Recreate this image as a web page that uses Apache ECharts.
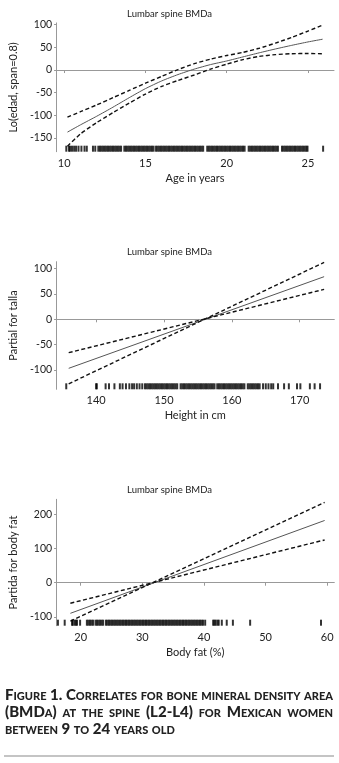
<!DOCTYPE html>
<html>
<head>
<meta charset="utf-8">
<script src="https://cdn.jsdelivr.net/npm/echarts@6/dist/echarts.min.js"></script>
<style>
  html, body { margin: 0; padding: 0; background: #fff; }
  #chart { width: 339px; height: 763px; position: absolute; left: 0; top: 0; }
  .caption {
    position: absolute; left: 5px; top: 686px; width: 328px;
    font-family: Lato, "Open Sans", sans-serif; font-weight: 900;
    font-variant: small-caps; font-size: 15px; line-height: 17px; color: #222;
  }
  .caption span { display: block; text-align: justify; text-align-last: justify; white-space: nowrap; }
  .caption span.last { text-align-last: left; }
  .rule { position: absolute; left: 4px; top: 755px; width: 330px; height: 2px; background: #c4c4c4; }
</style>
</head>
<body>
<div id="chart"></div>
<div class="caption">
  <span>Figure 1. Correlates for bone mineral density area</span>
  <span>(BMDa) at the spine (L2-L4) for Mexican women</span>
  <span class="last">between 9 to 24 years old</span>
</div>
<div class="rule"></div>
<script>
// ---- panel 1: age (loess fit) ----
const ageX     = [10.2, 11, 12, 13, 14, 15, 16, 17, 18, 19, 20, 21, 22, 23, 24, 25, 25.9];
const ageFit   = [-137, -121, -102, -82, -61, -41, -24, -10, 2, 12, 20, 29, 38, 46.5, 54.5, 62, 68];
const ageUpper = [-104, -92, -77, -61, -45, -29, -14, 1, 14, 24, 32, 39, 48, 59.5, 72, 86, 99];
const ageLower = [-168, -141, -116, -94, -73, -53, -36, -23, -11, 2, 13, 23, 30, 34, 36, 36.5, 36];
const ageRug = [10.13, 10.29, 10.36, 10.48, 10.61, 10.73, 10.88, 11.06, 11.25, 11.39, 11.77, 11.91,
  12.1, 12.2, 12.3, 12.4, 12.5, 12.6, 12.7, 12.8, 12.9, 13.0, 13.1, 13.2, 13.3, 13.4, 13.5,
  13.7, 13.8, 13.9, 14.0, 14.1, 14.2, 14.3, 14.4, 14.5, 14.6, 14.7, 14.8, 14.9, 15.0, 15.1, 15.2, 15.3, 15.4, 15.5,
  15.65, 15.75, 15.85, 15.95, 16.05, 16.15, 16.25, 16.35, 16.45, 16.55, 16.65, 16.75, 16.85, 16.95, 17.05, 17.15,
  17.25, 17.35, 17.45, 17.55, 17.65, 17.75, 17.85, 17.95, 18.05, 18.15, 18.25, 18.35, 18.45, 18.55,
  18.8, 18.9, 19.0, 19.1, 19.2, 19.3, 19.4, 19.5, 19.6, 19.7, 19.8, 19.9, 20.0, 20.1, 20.2, 20.3, 20.4,
  20.5, 20.6, 20.7, 20.8, 20.9, 21.0, 21.1,
  21.35, 21.45, 21.55, 21.65, 21.75, 21.85, 21.95, 22.05, 22.15, 22.25, 22.35, 22.45, 22.55, 22.65,
  22.75, 22.85, 22.95, 23.05, 23.15,
  23.4, 23.5, 23.6, 23.7, 23.8, 23.9, 24.0, 24.1, 24.2, 24.3, 24.4, 24.5, 24.6, 24.7, 24.8, 24.9, 24.97,
  25.93];
const ageTicks = [10, 15, 20, 25];
const ageYTicks = [-150, -100, -50, 0, 50, 100];

// ---- panel 2: height (linear term) ----
const hX      = [135.96, 173.6];
const hFit    = [-96.5, 83.9];
const hBandA  = [-65.7, 59];
const hBandB  = [-127, 112];
const hRug = [135.6, 140.0, 140.1, 141.4, 141.9, 142.7, 143.5, 143.9, 144.4, 144.9, 145.3, 145.6, 146.0, 146.4, 146.8,
  147.2, 147.45, 147.7, 147.95, 148.2, 148.45, 148.7, 148.95, 149.2, 149.45, 149.7, 149.95, 150.2, 150.45,
  150.7, 150.95, 151.2, 151.45, 151.7, 151.95, 152.45, 152.7, 152.95, 153.2, 153.45, 153.7, 153.95, 154.2,
  154.45, 154.7, 154.95, 155.2, 155.45, 155.7, 155.95, 156.2, 156.45, 156.7, 156.95, 157.2, 157.45,
  157.85, 158.1, 158.35, 158.6, 158.85, 159.1, 159.35, 159.6, 159.85, 160.1, 160.35, 160.6, 160.85,
  161.1, 161.35, 161.6, 161.85, 162.35, 162.6, 162.85, 163.1, 163.35, 163.6, 163.85, 164.1,
  164.6, 165.0, 165.4, 165.8, 166.1, 166.8, 167.7, 168.4, 169.6, 170.1, 171.5, 172.2, 173.0];
const hTicks = [140, 150, 160, 170];
const hYTicks = [-100, -50, 0, 50, 100];

// ---- panel 3: body fat (linear term) ----
const fX      = [18.32, 59.59];
const fFit    = [-89.5, 182];
const fBandA  = [-60, 125];
const fBandB  = [-112, 235];
const fRug = [16.3, 17.4, 18.6, 18.7, 19.0, 19.2, 19.4, 19.9,
  21.0, 21.25, 21.5, 21.75, 22.0, 22.4, 22.65, 22.9, 23.15, 23.4, 23.65, 24.1, 24.35, 24.6, 24.85,
  25.1, 25.35, 25.6, 25.85, 26.1, 26.35, 26.6, 26.85, 27.1, 27.35, 27.6, 27.85, 28.1, 28.35, 28.6,
  28.85, 29.1, 29.35, 29.6, 29.85, 30.1, 30.35, 30.6, 30.85, 31.1, 31.35, 31.6, 31.85, 32.1, 32.35,
  32.6, 32.85, 33.1, 33.35, 33.6, 33.85, 34.1, 34.35, 34.6, 34.85, 35.1, 35.35, 35.6, 35.85, 36.1,
  36.35, 36.6, 36.85, 37.1, 37.35, 37.6, 37.85, 38.1, 38.35, 38.6, 38.85, 39.1, 39.35, 39.6, 39.85,
  40.2, 41.5, 41.7, 41.9, 42.2, 42.4, 42.9, 43.7, 44.7, 47.5, 59.0];
const fTicks = [20, 30, 40, 50, 60];
const fYTicks = [-100, 0, 100, 200];

const titleText = 'Lumbar spine BMDa';
const font = 'Lato, "Open Sans", sans-serif';

const chart = echarts.init(document.getElementById('chart'), null, { renderer: 'canvas' });

function pair(xs, ys) { return xs.map((x, i) => [x, ys[i]]); }

function xAxisOf(idx, min, max, ticks, name) {
  return {
    gridIndex: idx, type: 'value', min: min, max: max, name: name,
    nameLocation: 'middle', nameGap: 21,
    nameTextStyle: { fontFamily: font, fontSize: 11, color: '#222' },
    axisLine: { show: true, lineStyle: { color: '#999', width: 1 } },
    axisTick: { show: true, length: 3, customValues: ticks, lineStyle: { color: '#999' } },
    axisLabel: { customValues: ticks, fontFamily: font, fontSize: 11, color: '#222', margin: 6 },
    splitLine: { show: false }
  };
}
function yAxisOf(idx, min, max, ticks, name) {
  return {
    gridIndex: idx, type: 'value', min: min, max: max, name: name,
    nameLocation: 'middle', nameGap: 25,
    nameTextStyle: { fontFamily: font, fontSize: 11, color: '#222' },
    axisLine: { show: true, lineStyle: { color: '#999', width: 1 } },
    axisTick: { show: true, length: 2, customValues: ticks, lineStyle: { color: '#999' } },
    axisLabel: { customValues: ticks, fontFamily: font, fontSize: 10.5, color: '#222', margin: 4 },
    splitLine: { show: false }
  };
}
function lineSeries(idx, data, dashed) {
  return {
    type: 'line', xAxisIndex: idx, yAxisIndex: idx, data: data, symbol: 'none',
    smooth: idx === 0 ? 0.2 : false, silent: true, z: dashed ? 3 : 2,
    lineStyle: dashed ? { color: '#111', width: 1.4, type: [4, 2.5] } : { color: '#555', width: 1 }
  };
}
function rugSeries(idx, xs, yMin) {
  return {
    type: 'scatter', xAxisIndex: idx, yAxisIndex: idx, silent: true,
    data: xs.map(x => [x, yMin]), symbol: 'rect', symbolSize: [2, 6], symbolOffset: [0, -3],
    itemStyle: { color: '#000' }, z: 4
  };
}

const ageMin = -180.2, hMin = -137.8, fMin = -125.7;

const option = {
  animation: false,
  title: [
    { text: titleText, left: 'center', top: 4, textStyle: { fontFamily: font, fontSize: 9.5, fontWeight: 'normal', color: '#222' } },
    { text: titleText, left: 'center', top: 242, textStyle: { fontFamily: font, fontSize: 9.5, fontWeight: 'normal', color: '#222' } },
    { text: titleText, left: 'center', top: 480, textStyle: { fontFamily: font, fontSize: 9.5, fontWeight: 'normal', color: '#222' } }
  ],
  grid: [
    { left: 39, right: 5, top: 22.9, height: 128.8 },
    { left: 40, right: 4.7, top: 261.7, height: 127.6 },
    { left: 39, right: 4.7, top: 499.3, height: 126.4 }
  ],
  xAxis: [
    xAxisOf(0, 9.5, 26.6, ageTicks, 'Age in years'),
    xAxisOf(1, 134.1, 175.1, hTicks, 'Height in cm'),
    xAxisOf(2, 16.0, 61.16, fTicks, 'Body fat (%)')
  ],
  yAxis: [
    yAxisOf(0, ageMin, 104, ageYTicks, 'Lo(edad, span=0.8)'),
    yAxisOf(1, hMin, 113.4, hYTicks, 'Partial for talla'),
    yAxisOf(2, fMin, 243.9, fYTicks, 'Partida for body fat')
  ],
  series: [
    lineSeries(0, pair(ageX, ageFit), false),
    lineSeries(0, pair(ageX, ageUpper), true),
    lineSeries(0, pair(ageX, ageLower), true),
    rugSeries(0, ageRug, ageMin),
    lineSeries(1, pair(hX, hFit), false),
    lineSeries(1, pair(hX, hBandA), true),
    lineSeries(1, pair(hX, hBandB), true),
    rugSeries(1, hRug, hMin),
    lineSeries(2, pair(fX, fFit), false),
    lineSeries(2, pair(fX, fBandA), true),
    lineSeries(2, pair(fX, fBandB), true),
    rugSeries(2, fRug, fMin)
  ]
};
chart.setOption(option);
</script>
</body>
</html>
